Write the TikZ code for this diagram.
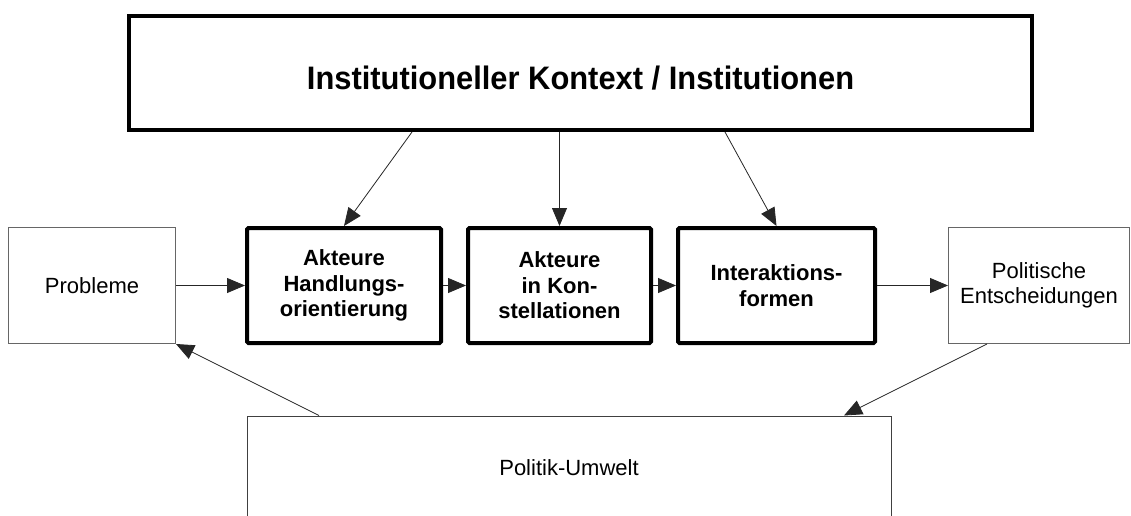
\documentclass[tikz,border=0pt]{standalone}
\usepackage{fontspec}
\setmainfont{Liberation Sans}
\newfontfamily\titlefont[FakeStretch=0.95]{Liberation Sans}
\usetikzlibrary{arrows.meta}
\begin{document}
\begin{tikzpicture}[x=1pt,y=-1pt,
  thickbox/.style={draw=black,line width=4pt,rounded corners=1.5pt,align=center,
    font=\bfseries\fontsize{22}{25.5}\selectfont,inner sep=0pt},
  thinbox/.style={draw=black!60,line width=1pt,align=center,
    font=\fontsize{22}{25}\selectfont,inner sep=0pt},
  arr/.style={draw=black!85,line width=0.8pt,-{Triangle[length=18pt,width=15pt]}}]
\useasboundingbox (0,0) rectangle (1131,516);
\node[draw=black,line width=4pt,minimum width=903pt,minimum height=114pt,inner sep=0pt,
  text height=23.3pt,text depth=0pt,
  font=\titlefont\bfseries\fontsize{32.5}{36}\selectfont] (top) at (580.5,73) {\raisebox{-5pt}{Institutioneller Kontext / Institutionen}};
\node[thickbox,minimum width=194pt,minimum height=115pt] (A) at (344,285.5) {Akteure\\Handlungs-\\orientierung};
\node[thickbox,minimum width=183pt,minimum height=115pt] (B) at (559.5,285.5) {Akteure\\in Kon-\\stellationen};
\node[thickbox,minimum width=197pt,minimum height=115pt] (C) at (776.5,285.5) {Interaktions-\\formen};
\node[thinbox,minimum width=167pt,minimum height=116pt] (prob) at (92,285.5) {Probleme};
\node[thinbox,minimum width=181pt,minimum height=116pt] (pol) at (1039,285.5) {Politische\\Entscheidungen};
\node[thinbox,draw=black!75,minimum width=644pt,minimum height=104pt] (umw) at (569,468) {Politik-Umwelt};
\draw[arr] ([xshift=-168.5pt]top.south) -- (A.north);
\draw[arr] (B.north |- top.south) -- (B.north);
\draw[arr] ([xshift=144.5pt]top.south) -- (C.north);
\draw[arr] (prob.east) -- (A.west);
\draw[arr] (A.east) -- (B.west);
\draw[arr] (B.east) -- (C.west);
\draw[arr] (C.east) -- (pol.west);
\draw[arr] ([xshift=-52pt]pol.south) -- ([xshift=275pt]umw.north);
\draw[arr] ([xshift=-250pt]umw.north) -- (prob.south east);
\end{tikzpicture}
\end{document}
